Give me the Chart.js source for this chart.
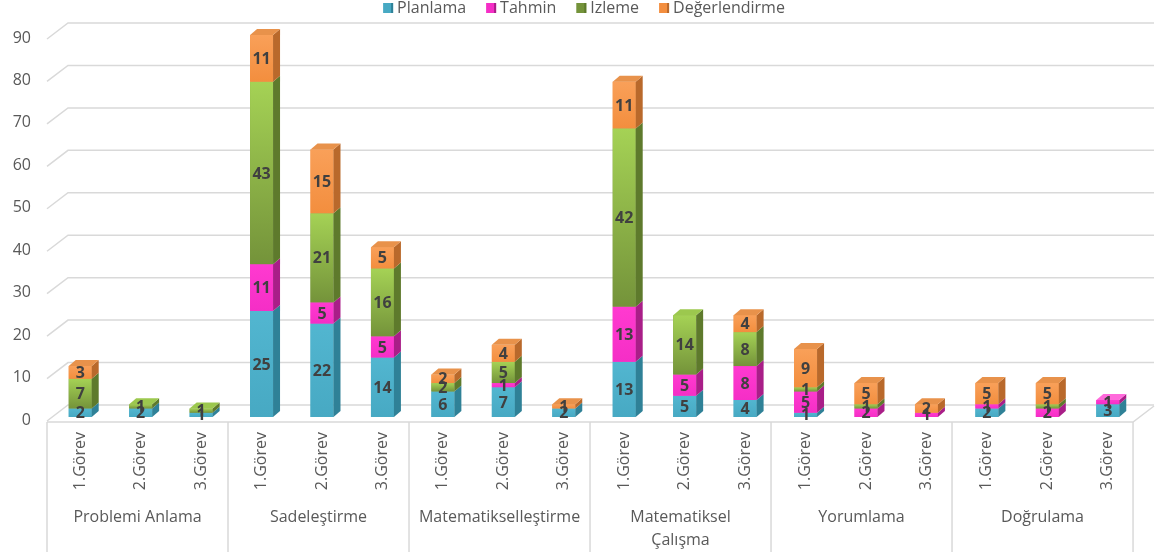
<!DOCTYPE html>
<html lang="tr">
<head>
<meta charset="utf-8">
<title>Görevlere göre üstbilişsel davranışlar</title>
<script src="https://cdn.jsdelivr.net/npm/chart.js@4.4.1/dist/chart.umd.min.js"></script>
<style>
  html, body { margin: 0; padding: 0; background: #ffffff; }
  #wrap { width: 1156px; height: 557px; }
</style>
</head>
<body>
<div id="wrap"><canvas id="chart" width="1156" height="557"></canvas></div>
<script>
// Task labels on the category axis, and the phase each group of three belongs to
const categories = [
  '1.Görev', '2.Görev', '3.Görev',
  '1.Görev', '2.Görev', '3.Görev',
  '1.Görev', '2.Görev', '3.Görev',
  '1.Görev', '2.Görev', '3.Görev',
  '1.Görev', '2.Görev', '3.Görev',
  '1.Görev', '2.Görev', '3.Görev'
];
const groups = [
  ['Problemi Anlama'],
  ['Sadeleştirme'],
  ['Matematikselleştirme'],
  ['Matematiksel', 'Çalışma'],
  ['Yorumlama'],
  ['Doğrulama']
];

// Counts per metacognitive behaviour
const planlama      = [2, 2, 1, 25, 22, 14, 6, 7, 2, 13, 5, 4, 1, 0, 0, 2, 0, 3];
const tahmin        = [0, 0, 0, 11, 5, 5, 0, 1, 0, 13, 5, 8, 5, 2, 1, 1, 2, 1];
const izleme        = [7, 1, 1, 43, 21, 16, 2, 5, 0, 42, 14, 8, 1, 1, 0, 0, 1, 0];
const degerlendirme = [3, 0, 0, 11, 15, 5, 2, 4, 1, 11, 0, 4, 9, 5, 2, 5, 5, 0];

const seriesNames = ['Planlama', 'Tahmin', 'İzleme', 'Değerlendirme'];
const yTicks = [0, 10, 20, 30, 40, 50, 60, 70, 80, 90];

// Face shading for the extruded bars: front gradient (top, bottom), side, top
const shades = [
  { front: ['#52B6D0', '#47A9C3'], side: '#2F8197', top: '#6FC6DC' },
  { front: ['#FF3AD0', '#F52EC6'], side: '#A91E88', top: '#FF6ADB' },
  { front: ['#A5D255', '#74933A'], side: '#5E7A2C', top: '#9CC84E' },
  { front: ['#F9A059', '#F38E3E'], side: '#B9692B', top: '#E8924B' }
];

const FONT = '"Open Sans", "DejaVu Sans", sans-serif';
const TEXT = '#595959';
const LINE = '#D9D9D9';
const DEPTH_X = 7, DEPTH_Y = -6;

const datasets = [planlama, tahmin, izleme, degerlendirme].map((values, i) => ({
  label: seriesNames[i],
  data: values,
  backgroundColor: shades[i].front[1],
  borderWidth: 0,
  categoryPercentage: 1,
  barPercentage: 0.38
}));

// Back-wall gridlines, floor and group dividers
const wallPlugin = {
  id: 'wall',
  beforeDatasetsDraw(chart) {
    const { ctx, chartArea: a, scales: { x, y } } = chart;
    const W = chart.width;
    ctx.save();
    ctx.strokeStyle = LINE;
    ctx.lineWidth = 1.5;
    yTicks.forEach(v => {
      const py = y.getPixelForValue(v);
      ctx.beginPath();
      ctx.moveTo(a.left - 3, py + 4);
      ctx.lineTo(a.left + 18, py - 12);
      ctx.lineTo(W - 2, py - 12);
      ctx.stroke();
    });
    // floor front edge
    const y0 = y.getPixelForValue(0) + 5;
    const fx = px => px - 3 - (px - a.left) * 0.0018;
    const half = (x.getPixelForValue(1) - x.getPixelForValue(0)) / 2;
    const bounds = [];
    for (let k = 0; k < groups.length; k++) bounds.push(fx(x.getPixelForValue(k * 3) - half));
    bounds.push(fx(x.getPixelForValue(categories.length - 1) + half));
    ctx.beginPath();
    ctx.moveTo(bounds[0], y0);
    ctx.lineTo(bounds[bounds.length - 1], y0);
    ctx.lineTo(bounds[bounds.length - 1] + 21, y0 - 16);
    ctx.stroke();
    // group dividers below the floor
    bounds.forEach(b => {
      ctx.beginPath();
      ctx.moveTo(b, y0);
      ctx.lineTo(b, 552);
      ctx.stroke();
    });
    // group names
    ctx.fillStyle = TEXT;
    ctx.font = '16px ' + FONT;
    ctx.textAlign = 'center';
    ctx.textBaseline = 'middle';
    groups.forEach((lines, k) => {
      const cx = (bounds[k] + bounds[k + 1]) / 2;
      lines.forEach((t, li) => ctx.fillText(t, cx, 517 + li * 23));
    });
    ctx.restore();
  }
};

// Side/top faces, shaded fronts and value labels for each stacked segment
const boxPlugin = {
  id: 'boxes',
  afterDatasetsDraw(chart) {
    const { ctx } = chart;
    const metas = chart.data.datasets.map((d, i) => chart.getDatasetMeta(i));
    const n = categories.length;
    ctx.save();
    for (let j = 0; j < n; j++) {
      let topIdx = -1;
      metas.forEach((m, i) => { if (chart.data.datasets[i].data[j] > 0) topIdx = i; });
      metas.forEach((m, i) => {
        const v = chart.data.datasets[i].data[j];
        if (!(v > 0)) return;
        const el = m.data[j];
        const left = el.x - el.width / 2, right = el.x + el.width / 2;
        const top = el.y, bottom = el.base;
        const s = shades[i];
        const g = ctx.createLinearGradient(0, top, 0, bottom);
        g.addColorStop(0, s.front[0]);
        g.addColorStop(1, s.front[1]);
        ctx.fillStyle = g;
        ctx.fillRect(left, top, right - left, bottom - top);
        ctx.fillStyle = s.side;
        ctx.beginPath();
        ctx.moveTo(right, top);
        ctx.lineTo(right + DEPTH_X, top + DEPTH_Y);
        ctx.lineTo(right + DEPTH_X, bottom + DEPTH_Y);
        ctx.lineTo(right, bottom);
        ctx.closePath();
        ctx.fill();
        if (i === topIdx) {
          ctx.fillStyle = s.top;
          ctx.beginPath();
          ctx.moveTo(left, top);
          ctx.lineTo(left + DEPTH_X, top + DEPTH_Y);
          ctx.lineTo(right + DEPTH_X, top + DEPTH_Y);
          ctx.lineTo(right, top);
          ctx.closePath();
          ctx.fill();
        }
      });
    }
    ctx.fillStyle = '#404040';
    ctx.font = 'bold 16px ' + FONT;
    ctx.textAlign = 'center';
    ctx.textBaseline = 'middle';
    metas.forEach((m, i) => {
      m.data.forEach((el, j) => {
        const v = chart.data.datasets[i].data[j];
        if (!(v > 0)) return;
        ctx.fillText(String(v), el.x, (el.y + el.base) / 2 + 1);
      });
    });
    ctx.restore();
  }
};

// Legend row above the plot
const legendPlugin = {
  id: 'legendRow',
  afterDraw(chart) {
    const { ctx } = chart;
    ctx.save();
    ctx.font = '16px ' + FONT;
    const box = 10, gapText = 4, gapItem = 20;
    const widths = seriesNames.map(t => ctx.measureText(t).width);
    const total = widths.reduce((s, w) => s + box + gapText + w, 0) + gapItem * (seriesNames.length - 1);
    let x = 584 - total / 2;
    const cy = 8;
    ctx.textBaseline = 'middle';
    ctx.textAlign = 'left';
    seriesNames.forEach((t, i) => {
      const s = shades[i];
      ctx.fillStyle = s.front[1];
      ctx.fillRect(x, cy - box / 2, box, box);
      ctx.fillStyle = s.side;
      ctx.fillRect(x + box - 2, cy - box / 2, 2, box);
      ctx.fillStyle = TEXT;
      ctx.fillText(t, x + box + gapText, cy);
      x += box + gapText + widths[i] + gapItem;
    });
    ctx.restore();
  }
};

new Chart(document.getElementById('chart'), {
  type: 'bar',
  data: { labels: categories, datasets },
  options: {
    responsive: false,
    animation: false,
    layout: { padding: { top: 35, right: 18, left: 0, bottom: 0 } },
    plugins: {
      legend: { display: false },
      tooltip: { enabled: false }
    },
    scales: {
      x: {
        stacked: true,
        grid: { display: false, drawTicks: false },
        border: { display: false },
        afterFit(scale) { scale.height = 140; },
        ticks: {
          autoSkip: false,
          minRotation: 90,
          maxRotation: 90,
          padding: 15,
          color: TEXT,
          font: { family: FONT, size: 16 }
        }
      },
      y: {
        stacked: true,
        min: 0,
        max: 90,
        grid: { display: false, drawTicks: false },
        border: { display: false },
        afterFit(scale) { scale.width = 50; },
        afterBuildTicks(scale) { scale.ticks = yTicks.map(v => ({ value: v })); },
        ticks: {
          padding: 19,
          labelOffset: 3,
          color: TEXT,
          font: { family: FONT, size: 16 }
        }
      }
    }
  },
  plugins: [wallPlugin, boxPlugin, legendPlugin]
});
</script>
</body>
</html>
